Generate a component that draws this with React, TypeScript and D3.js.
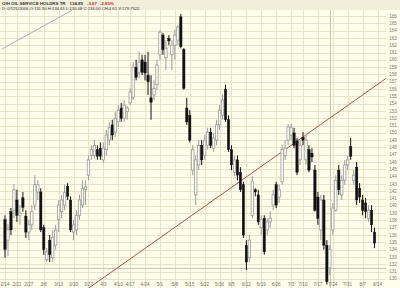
import React from "react";
import * as d3 from "d3";

const opens = [138.1,135.3,139.2,139.4,140.8,138.7,141.1,138.6,136.4,137.4,
140.1,141.9,141.9,137.0,132.6,135.3,132.9,134.6,138.1,139.2,
140.1,142.7,140.8,136.4,136.7,138.7,140.1,142.2,144.2,146.9,
146.9,147.7,147.9,146.3,147.7,149.0,151.1,150.1,151.5,153.4,
152.0,152.9,154.1,154.9,159.0,158.3,160.0,159.7,157.9,154.8,
155.2,156.6,160.7,163.4,160.3,162.9,160.7,162.0,162.7,165.9,
161.4,153.4,152.4,144.9,141.5,145.6,148.3,146.9,148.3,150.1,
147.9,149.0,151.1,152.4,156.0,151.8,147.7,144.6,146.3,144.6,
142.9,134.6,132.9,138.7,142.2,141.5,137.0,138.3,136.7,137.8,
140.1,142.9,141.2,143.3,146.9,149.0,149.7,150.0,148.9,146.3,
149.4,146.3,147.7,147.2,144.9,141.2,136.7,140.8,134.6,131.5,
136.7,139.4,144.9,141.5,143.5,145.6,148.1,143.5,145.3,142.4,
140.8,140.4,138.3,139.4,136.4];

const highs = [138.7,137.5,139.7,143.0,142.2,140.1,141.9,139.4,138.1,140.1,
144.2,143.5,142.4,137.4,134.2,136.0,136.7,137.4,140.8,141.5,
142.9,143.1,141.3,138.1,139.4,141.5,143.5,143.5,146.9,148.3,
149.0,148.3,148.7,148.7,150.4,151.5,151.8,152.9,153.8,154.1,
154.5,153.7,156.1,159.7,160.0,161.1,160.7,160.7,161.1,157.9,
157.2,160.0,164.1,163.7,162.7,163.4,162.7,164.1,164.8,166.3,
161.6,154.8,153.1,148.3,146.9,149.0,149.0,149.7,150.7,150.7,
150.0,151.8,153.8,155.2,156.6,152.4,148.3,146.9,146.9,145.3,
143.3,135.3,136.0,144.1,142.4,142.2,138.7,138.7,138.3,139.2,
142.2,143.3,142.9,148.3,149.0,151.2,151.2,150.7,149.3,149.0,
150.1,149.7,148.3,147.9,145.6,141.9,141.5,141.5,135.3,134.6,
140.4,144.2,145.6,144.2,146.3,146.9,149.3,144.9,146.0,143.1,
141.5,141.1,140.1,140.1,137.0];

const lows = [132.9,133.1,136.0,138.3,137.8,137.4,139.2,135.6,135.3,136.7,
139.4,140.8,136.4,133.3,132.3,132.3,132.3,134.0,136.4,138.3,
139.4,140.8,136.4,135.3,136.0,138.1,139.7,140.1,143.5,146.3,
146.5,146.3,146.3,145.9,146.9,148.3,149.0,149.4,150.8,151.5,
151.5,151.8,153.8,154.5,157.2,157.5,157.9,157.2,155.2,151.8,
154.5,155.9,160.0,160.7,158.6,162.0,158.6,160.0,162.0,161.6,
155.9,151.1,148.7,144.2,140.1,144.9,145.6,146.3,147.7,147.9,
147.4,148.3,150.4,151.8,151.5,147.4,144.9,144.1,143.5,141.9,
135.6,131.2,132.3,138.3,141.3,137.4,136.0,133.3,136.0,137.0,
139.4,139.7,140.4,142.9,146.3,148.3,149.0,147.9,144.2,145.6,
148.3,145.6,144.6,146.0,139.2,137.4,135.3,134.0,129.2,130.5,
136.0,139.2,141.5,140.8,142.9,144.9,146.3,142.9,140.1,140.4,
138.7,138.3,137.8,136.4,134.2];

const closes = [134.0,136.7,136.7,142.2,138.7,139.0,139.8,136.4,137.4,139.2,
142.9,142.9,136.7,134.0,133.7,133.3,135.7,136.7,140.1,140.8,
141.8,141.3,136.7,137.4,138.7,140.8,142.4,142.6,146.3,147.7,
148.3,146.8,146.8,147.9,149.7,150.7,149.7,152.0,153.1,152.0,
153.8,153.4,155.6,159.0,157.6,159.7,158.3,158.2,157.0,154.2,
156.1,159.3,163.8,161.4,161.6,162.6,162.0,163.4,164.5,161.8,
156.1,151.5,149.0,147.7,146.3,148.3,146.3,149.0,150.1,148.3,
149.3,151.1,153.1,154.5,151.8,147.7,145.6,146.3,144.2,142.2,
136.0,132.3,135.3,143.4,141.9,137.8,138.1,133.7,137.8,138.3,
141.5,140.1,142.2,147.7,147.9,150.8,150.7,148.3,144.6,148.3,
149.0,149.0,144.9,146.7,139.4,138.3,140.8,134.6,129.6,134.0,
139.7,143.5,142.2,143.5,145.6,146.3,146.8,144.2,140.8,141.2,
139.4,139.2,139.4,137.4,134.89];

const dateLabels = ["2/14","2/21","2/27","3/6","3/13","3/20","3/27","4/3","4/10","4/17","4/24","5/1","5/8","5/15","5/22","5/30","6/5","6/12","6/19","6/26","7/3","7/10","7/17","7/24","7/31","8/7","8/14"];
const dateIndex = [0,4,8,13,18,23,28,33,38,42,47,52,57,62,67,72,76,81,86,91,96,100,105,110,115,120,125];
const priceTicks = d3.range(130, 167, 1);

const trendRed = [{ i: 28, p: 128.7 }, { i: 128, p: 157.5 }];
const trendGray = [{ i: -1, p: 161.5 }, { i: 22.5, p: 166.8 }];
const cursorIndex = 109;
const cursorPrice = 131.5;

const titleText = "OIH OIL SERVICE HOLDRS TR";
const lastText = "134.89";
const chgText = "-3.67";
const pctText = "-2.65%";
const infoText = "D: 07/21/2006 O:131.50 H:134.61 L:130.08 C:134.00 CH:4.61 V:179.7522";

export default function App() {
  const W = 400, H = 288;
  const x = d3.scaleLinear().domain([0, 125]).range([5, 377.5]);
  const y = d3.scaleLinear().domain([130, 166]).range([278.8, 16.1]);
  const plotRight = 386;
  const bw = 2.4;
  const line = d3.line<{ i: number; p: number }>().x(d => x(d.i)).y(d => y(d.p));
  const font = "'Liberation Sans', Arial, sans-serif";
  return (
    <svg width={W} height={H} style={{ position: "absolute", left: 0, top: 0 }} fontFamily={font}>
      <defs>
        <clipPath id="plot"><rect x={0} y={10} width={plotRight} height={H - 10} /></clipPath>
      </defs>
      <rect x={0} y={0} width={W} height={H} fill="#FEFDEB" />
      <rect x={0} y={0} width={W} height={10} fill="#F1EEDA" />
      {priceTicks.map(p => (
        <line key={"h" + p} x1={0} x2={plotRight} y1={Math.round(y(p)) + 0.5} y2={Math.round(y(p)) + 0.5} stroke="#E6E3C8" strokeWidth={1} />
      ))}
      {dateIndex.map((di, k) => (
        <line key={"v" + k} x1={Math.round(x(di)) + 0.5} x2={Math.round(x(di)) + 0.5} y1={10} y2={H} stroke="#E6E3C8" strokeWidth={1} />
      ))}
      <g clipPath="url(#plot)">
        <line x1={Math.round(x(cursorIndex)) + 0.5} x2={Math.round(x(cursorIndex)) + 0.5} y1={10} y2={H} stroke="#C8C6B8" strokeWidth={1} />
        <line x1={0} x2={plotRight + 4} y1={Math.round(y(cursorPrice)) + 0.5} y2={Math.round(y(cursorPrice)) + 0.5} stroke="#C8C6B8" strokeWidth={1} />
        <path d={line(trendGray) || ""} stroke="#A8B0C4" strokeWidth={1} fill="none" />
        <path d={line(trendRed) || ""} stroke="#B05050" strokeWidth={1} fill="none" />
        {opens.map((o, i) => {
          const c = closes[i];
          const up = c >= o;
          const cx = x(i);
          const top = y(Math.max(o, c));
          const bot = y(Math.min(o, c));
          const col = up ? "#9A9A9A" : "#111";
          return (
            <g key={"c" + i}>
              <line x1={cx} x2={cx} y1={y(highs[i])} y2={y(lows[i])} stroke={col} strokeWidth={1} />
              <rect x={cx - bw / 2} y={top} width={bw} height={Math.max(1, bot - top)} fill={up ? "#FFFFF4" : "#111"} stroke={up ? "#9A9A9A" : "#111"} strokeWidth={up ? 0.8 : 0.4} />
            </g>
          );
        })}
      </g>
      {priceTicks.map(p => (
        <text key={"t" + p} x={393} y={y(p) + 1.6} fontSize={4.6} fill="#7A7A70" textAnchor="middle">{p}</text>
      ))}
      {dateLabels.map((d, k) => (
        <text key={"d" + k} x={x(dateIndex[k])} y={286} fontSize={4.6} fill="#6E6E66" textAnchor="middle">{d}</text>
      ))}
      <text x={2} y={5} fontSize={4.4} fontWeight="bold" fill="#333">
        {titleText}
        <tspan dx={4}>{lastText}</tspan>
        <tspan dx={4} fill="#D02020">{chgText}</tspan>
        <tspan dx={3} fill="#D02020">{pctText}</tspan>
      </text>
      <text x={2} y={9.6} fontSize={4.2} fill="#333">{infoText}</text>
    </svg>
  );
}
